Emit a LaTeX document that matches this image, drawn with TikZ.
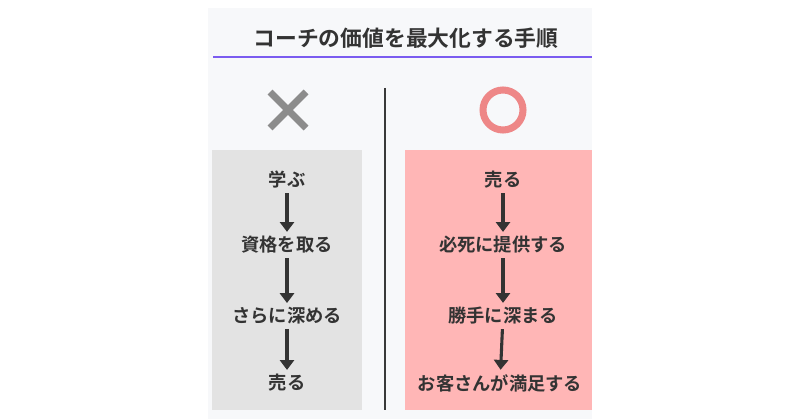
\documentclass[tikz,border=0pt]{standalone}
\usepackage{fontspec}
\setmainfont{Noto Sans CJK JP}[BoldFont={* Bold}]
\usetikzlibrary{arrows.meta}
\definecolor{panelbg}{HTML}{F7F8FA}
\definecolor{leftbg}{HTML}{E3E3E3}
\definecolor{rightbg}{HTML}{FFB6B6}
\definecolor{txt}{HTML}{333333}
\definecolor{purp}{HTML}{7B5CF0}
\definecolor{ring}{HTML}{EE8787}
\tikzstyle{stepname}=[font=\bfseries\fontsize{13}{15}\selectfont, text=txt, inner sep=1pt]
\tikzstyle{arrow}=[-{Triangle[length=7pt,width=10pt]}, draw=txt, line width=2.2pt, shorten >=2pt, shorten <=2pt]

\begin{document}
\begin{tikzpicture}[x=0.025cm, y=-0.025cm]
            \useasboundingbox (0, 0) rectangle (800, 419);
            \fill [panelbg] (208, 8) rectangle (592, 419);
            \node [font=\bfseries\fontsize{15.5}{18}\selectfont, text=txt] (title) at (406, 38) {コーチの価値を最大化する手順};
            \draw [purp, line width=1.4pt] (213, 57) -- (592, 57);
            \draw [gray!45!black, line width=0.8pt] (385, 88) -- (385, 410);

            \draw [gray!90, line width=5pt] (270, 92) -- (306, 128) (306, 92) -- (270, 128);
            \draw [ring, line width=5pt] (503, 110) circle (20);

            \fill [leftbg] (212, 150) rectangle (362, 410);
            \fill [rightbg] (405, 150) rectangle (592, 410);

            \node [style=stepname] (L1) at (287, 180) {学ぶ};
            \node [style=stepname] (L2) at (287, 245) {資格を取る};
            \node [style=stepname] (L3) at (287, 316) {さらに深める};
            \node [style=stepname] (L4) at (287, 383) {売る};

            \node [style=stepname] (R1) at (503, 180) {売る};
            \node [style=stepname] (R2) at (503, 245) {必死に提供する};
            \node [style=stepname] (R3) at (503, 316) {勝手に深まる};
            \node [style=stepname] (R4) at (500, 383) {お客さんが満足する};

            \draw [style=arrow] (L1) to (L2);
            \draw [style=arrow] (L2) to (L3);
            \draw [style=arrow] (L3) to (L4);
            \draw [style=arrow] (R1) to (R2);
            \draw [style=arrow] (R2) to (R3);
            \draw [style=arrow] (R3) to (R4);
        \end{tikzpicture}
\end{document}
